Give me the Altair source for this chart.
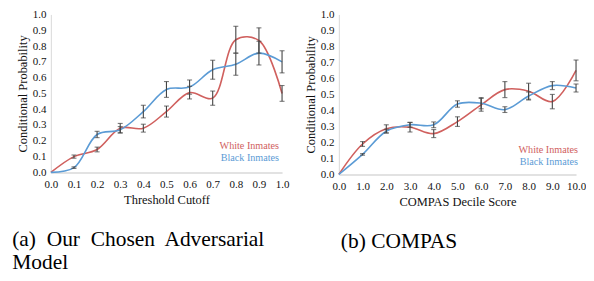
import altair as alt
import pandas as pd

# ---------------- data ----------------
series_names = ["White Inmates", "Black Inmates"]
series_colors = ["#d0605e", "#5b9bd5"]

# panel (a)
x_a = [0.0, 0.1, 0.2, 0.3, 0.4, 0.5, 0.6, 0.7, 0.8, 0.9, 1.0]
white_a = [0.0, 0.10, 0.145, 0.28, 0.28, 0.385, 0.505, 0.47, 0.84, 0.835, 0.50]
white_err_a = [0.0, 0.01, 0.015, 0.03, 0.025, 0.035, 0.04, 0.045, 0.085, 0.08, 0.05]
black_a = [0.0, 0.03, 0.24, 0.27, 0.385, 0.525, 0.54, 0.65, 0.685, 0.755, 0.70]
black_err_a = [0.0, 0.005, 0.02, 0.02, 0.04, 0.05, 0.045, 0.06, 0.07, 0.075, 0.07]
ticks_a = [0.0, 0.1, 0.2, 0.3, 0.4, 0.5, 0.6, 0.7, 0.8, 0.9, 1.0]

# panel (b)
x_b = [0.0, 1.0, 2.0, 3.0, 4.0, 5.0, 6.0, 7.0, 8.0, 9.0, 10.0]
white_b = [0.0, 0.19, 0.285, 0.295, 0.255, 0.33, 0.435, 0.53, 0.52, 0.455, 0.65]
white_err_b = [0.0, 0.015, 0.025, 0.03, 0.025, 0.03, 0.04, 0.05, 0.05, 0.045, 0.065]
black_b = [0.0, 0.125, 0.27, 0.31, 0.31, 0.44, 0.445, 0.405, 0.49, 0.555, 0.54]
black_err_b = [0.0, 0.005, 0.012, 0.015, 0.018, 0.02, 0.035, 0.018, 0.025, 0.025, 0.025]
ticks_b = [0.0, 1.0, 2.0, 3.0, 4.0, 5.0, 6.0, 7.0, 8.0, 9.0, 10.0]

y_ticks = [0.0, 0.1, 0.2, 0.3, 0.4, 0.5, 0.6, 0.7, 0.8, 0.9, 1.0]

H = "\u200a"
caption_a = [f"(a){H*3} Our{H*3} Chosen{H*3} Adversarial", "Model"]
caption_b = ["(b) COMPAS"]

FONT = "Liberation Serif"


def panel(xs, white, werr, black, berr, xticks, xtitle, caption, w, h,
          leg_x, leg_y, cap_frame, cap_dx):
    rows = []
    err_rows = []
    for name, ys, es in [(series_names[0], white, werr), (series_names[1], black, berr)]:
        for xv, yv, ev in zip(xs, ys, es):
            rows.append({"x": xv, "y": yv, "series": name})
            if ev > 0:
                err_rows.append({"x": xv, "lo": yv - ev, "hi": yv + ev})
    df = pd.DataFrame(rows)
    edf = pd.DataFrame(err_rows)

    xscale = alt.Scale(domain=[xticks[0], xticks[-1]], nice=False, zero=False)
    yscale = alt.Scale(domain=[0, 1], nice=False, zero=True)
    xaxis = alt.Axis(values=xticks, format=".1f", title=xtitle, grid=False,
                     ticks=False, tickSize=0, labelPadding=6, labelOverlap=False,
                     labelFlush=False, domainColor="#d9d9d9", domainWidth=1.5,
                     labelFont=FONT, labelFontSize=11, labelColor="#111111",
                     titleFont=FONT, titleFontSize=12.5, titleFontWeight="normal",
                     titleColor="#111111", titlePadding=4)
    yaxis = alt.Axis(values=y_ticks, format=".1f", title="Conditional Probability",
                     grid=False, ticks=False, tickSize=0, labelPadding=5, labelOverlap=False,
                     labelFlush=False, domainColor="#d9d9d9", domainWidth=1,
                     labelFont=FONT, labelFontSize=11, labelColor="#111111",
                     titleFont=FONT, titleFontSize=12.5, titleFontWeight="normal",
                     titleColor="#111111", titlePadding=3)

    X = lambda f: alt.X(f, scale=xscale, axis=xaxis)
    Y = lambda f: alt.Y(f, scale=yscale, axis=yaxis)

    color = alt.Color("series:N", scale=alt.Scale(domain=series_names, range=series_colors),
                      legend=None)

    lines = alt.Chart(df).mark_line(interpolate="catmull-rom", strokeWidth=1.6).encode(
        x=X("x:Q"), y=Y("y:Q"), color=color, detail="series:N",
    )
    rules = alt.Chart(edf).mark_rule(color="#444444", strokeWidth=1.1).encode(
        x=X("x:Q"), y=Y("lo:Q"), y2="hi:Q")
    cap_lo = alt.Chart(edf).mark_tick(color="#444444", orient="horizontal", size=5,
                                      thickness=1.1).encode(x=X("x:Q"), y=Y("lo:Q"))
    cap_hi = alt.Chart(edf).mark_tick(color="#444444", orient="horizontal", size=5,
                                      thickness=1.1).encode(x=X("x:Q"), y=Y("hi:Q"))
    legends = []
    for i, (name, col) in enumerate(zip(series_names, series_colors)):
        legends.append(
            alt.Chart(pd.DataFrame({"name": [name]})).mark_text(
                font=FONT, fontSize=10.2, align="right", baseline="middle", color=col
            ).encode(text="name:N", x=alt.value(leg_x), y=alt.value(leg_y + 11.5 * i))
        )
    return alt.layer(lines, rules, cap_lo, cap_hi, *legends).properties(
        width=w, height=h,
        title=alt.TitleParams(caption, orient="bottom", anchor="start", frame=cap_frame,
                              font=FONT, fontSize=21.5, fontWeight="normal", color="#000000",
                              lineHeight=23, offset=23, dx=cap_dx),
    )


left = panel(x_a, white_a, white_err_a, black_a, black_err_a, ticks_a, "Threshold Cutoff",
             caption_a, 232, 158.5, 229, 132.5, "bounds", -4)
right = panel(x_b, white_b, white_err_b, black_b, black_err_b, ticks_b, "COMPAS Decile Score",
              caption_b, 238, 160.5, 240, 136.5, "group", 2)

chart = alt.hconcat(left, right, spacing=15).properties(
    padding={"left": 4, "top": 0, "right": 0, "bottom": 0}
).configure(background="white").configure_view(stroke=None)

chart.save("out.html", embed_options={"renderer": "svg", "actions": False})
